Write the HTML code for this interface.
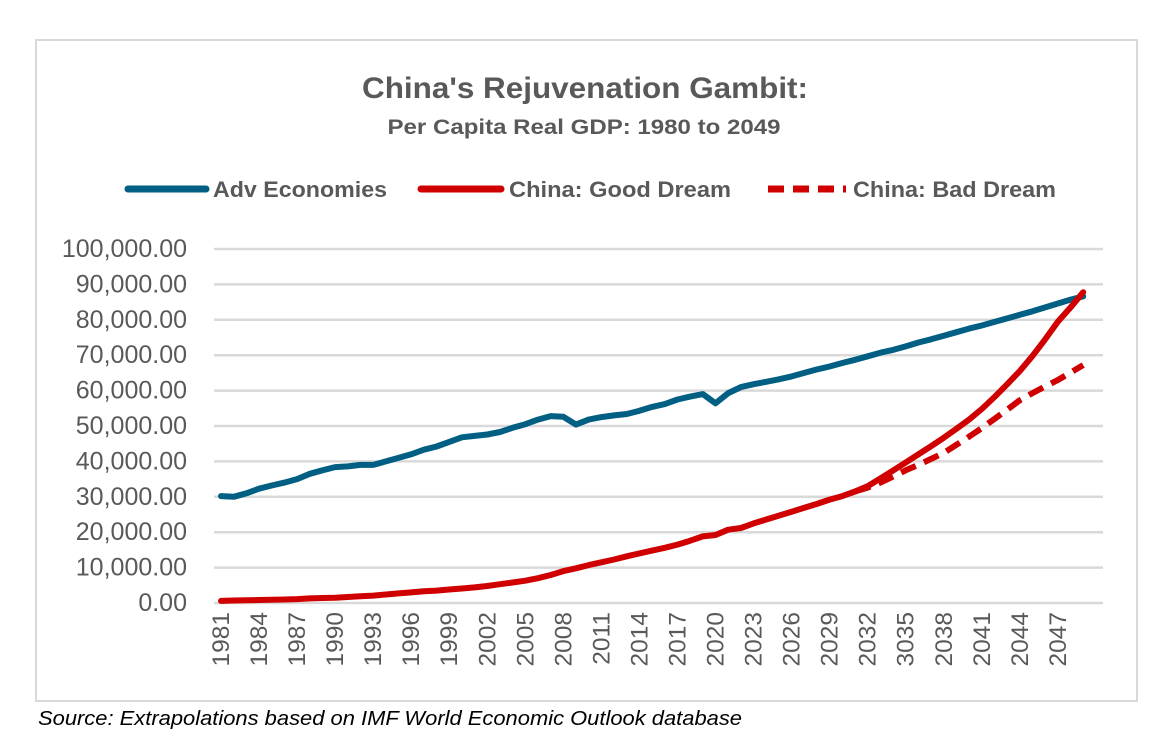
<!DOCTYPE html>
<html><head><meta charset="utf-8"><style>
body{margin:0;width:1164px;height:748px;background:#fff;font-family:"Liberation Sans",sans-serif;overflow:hidden}
svg{position:absolute;left:0;top:0}
</style></head><body>
<svg width="1164" height="748">
<rect x="36" y="40" width="1101" height="661" fill="#fff" stroke="#d9d9d9" stroke-width="2"/>
<text x="585" y="98" text-anchor="middle" font-size="30" font-weight="bold" fill="#595959" textLength="446" lengthAdjust="spacingAndGlyphs">China's Rejuvenation Gambit:</text>
<text x="584" y="134" text-anchor="middle" font-size="21" font-weight="bold" fill="#595959" textLength="393" lengthAdjust="spacingAndGlyphs">Per Capita Real GDP: 1980 to 2049</text>
<g>
<line x1="128" y1="189" x2="206" y2="189" stroke="#005f83" stroke-width="7" stroke-linecap="round"/>
<text x="213" y="197" font-size="22" font-weight="bold" fill="#595959" textLength="174" lengthAdjust="spacingAndGlyphs">Adv Economies</text>
<line x1="421" y1="189" x2="501" y2="189" stroke="#d00000" stroke-width="7" stroke-linecap="round"/>
<text x="509" y="197" font-size="22" font-weight="bold" fill="#595959" textLength="222" lengthAdjust="spacingAndGlyphs">China: Good Dream</text>
<line x1="768" y1="189" x2="846" y2="189" stroke="#d00000" stroke-width="7" stroke-dasharray="16,9"/>
<text x="853" y="197" font-size="22" font-weight="bold" fill="#595959" textLength="203" lengthAdjust="spacingAndGlyphs">China: Bad Dream</text>
</g>
<g id="grid"></g><g id="ylab"></g><g id="xlab"></g><g id="series"></g>
<text x="38" y="725" font-size="20" font-style="italic" fill="#000" textLength="704" lengthAdjust="spacingAndGlyphs">Source: Extrapolations based on IMF World Economic Outlook database</text>
</svg>
<script>
const years=[];for(let y=1981;y<=2049;y++)years.push(y);
const yTicks=[0,10000,20000,30000,40000,50000,60000,70000,80000,90000,100000];
const yTickLabels=["0.00","10,000.00","20,000.00","30,000.00","40,000.00","50,000.00","60,000.00","70,000.00","80,000.00","90,000.00","100,000.00"];
const xTickLabels=["1981","1984","1987","1990","1993","1996","1999","2002","2005","2008","2011","2014","2017","2020","2023","2026","2029","2032","3035","2038","2041","2044","2047"];
const advValues=[30.2,30.0,31.0,32.3,33.2,34.0,35.0,36.5,37.5,38.4,38.6,39.0,39.0,40.0,41.0,42.0,43.3,44.2,45.5,46.8,47.2,47.6,48.3,49.5,50.5,51.8,52.8,52.6,50.4,51.8,52.5,53.0,53.4,54.3,55.4,56.2,57.5,58.3,59.0,56.4,59.3,61.0,61.8,62.5,63.2,64.0,65.0,66.0,66.8,67.8,68.7,69.7,70.7,71.5,72.5,73.6,74.5,75.5,76.5,77.5,78.4,79.4,80.4,81.4,82.4,83.5,84.6,85.7,86.6];
const goodValues=[0.6,0.7,0.8,0.85,0.9,1.0,1.1,1.3,1.4,1.5,1.7,1.9,2.1,2.4,2.7,3.0,3.3,3.5,3.8,4.1,4.4,4.8,5.3,5.8,6.3,7.0,7.9,9.0,9.8,10.7,11.5,12.3,13.2,14.0,14.8,15.6,16.5,17.6,18.8,19.2,20.7,21.2,22.5,23.6,24.7,25.8,26.9,28.0,29.2,30.2,31.5,33.0,35.2,37.4,39.7,42.0,44.3,46.7,49.2,51.8,54.8,58.2,61.8,65.5,69.8,74.5,79.5,83.5,87.8];
const badStart=2031;
const badValues=[31.5,32.6,34.0,35.7,37.5,39.0,40.7,42.4,44.7,47.0,49.4,52.0,54.6,57.3,59.3,61.2,63.0,65.1,67.2];
const NS="http://www.w3.org/2000/svg";
const x0=221,dx=12.68,yb=603,yt=249;
function xs(yr){return x0+(yr-1981)*dx;}
function ys(v){return yb-(v/100000)*(yb-yt);}
function mk(tag,attrs,parent){const e=document.createElementNS(NS,tag);for(const k in attrs)e.setAttribute(k,attrs[k]);parent.appendChild(e);return e;}
const grid=document.getElementById('grid'),ylab=document.getElementById('ylab'),xlab=document.getElementById('xlab'),ser=document.getElementById('series');
yTicks.forEach((t,i)=>{
 const l=mk('line',{x1:214,x2:1103,y1:ys(t),y2:ys(t),stroke:'#d9d9d9','stroke-width':2.5},grid);
 
 
 const tx=mk('text',{x:187,y:ys(t)+8,'text-anchor':'end','font-size':25,fill:'#595959'},ylab);
 tx.textContent=yTickLabels[i];
 
 
});
xTickLabels.forEach((lab,i)=>{
 const yr=1981+i*3;const x=xs(yr)+8;
 const tx=mk('text',{x:x,y:612,'text-anchor':'end','font-size':24.5,fill:'#595959',transform:`rotate(-90 ${x} 612)`},xlab);
 tx.textContent=lab;
 
 
});
function path(vals,startYr){return vals.map((v,i)=>(i?'L':'M')+xs(startYr+i).toFixed(1)+' '+ys(v*1000).toFixed(1)).join(' ');}
const pb=mk('path',{d:path(badValues,badStart),fill:'none',stroke:'#d00000','stroke-width':6,'stroke-dasharray':'16,9','stroke-linejoin':'round'},ser);


const pa=mk('path',{d:path(advValues,1981),fill:'none',stroke:'#005f83','stroke-width':6,'stroke-linecap':'round','stroke-linejoin':'round'},ser);


const pg=mk('path',{d:path(goodValues,1981),fill:'none',stroke:'#d00000','stroke-width':6,'stroke-linecap':'round','stroke-linejoin':'round'},ser);


</script>
</body></html>
